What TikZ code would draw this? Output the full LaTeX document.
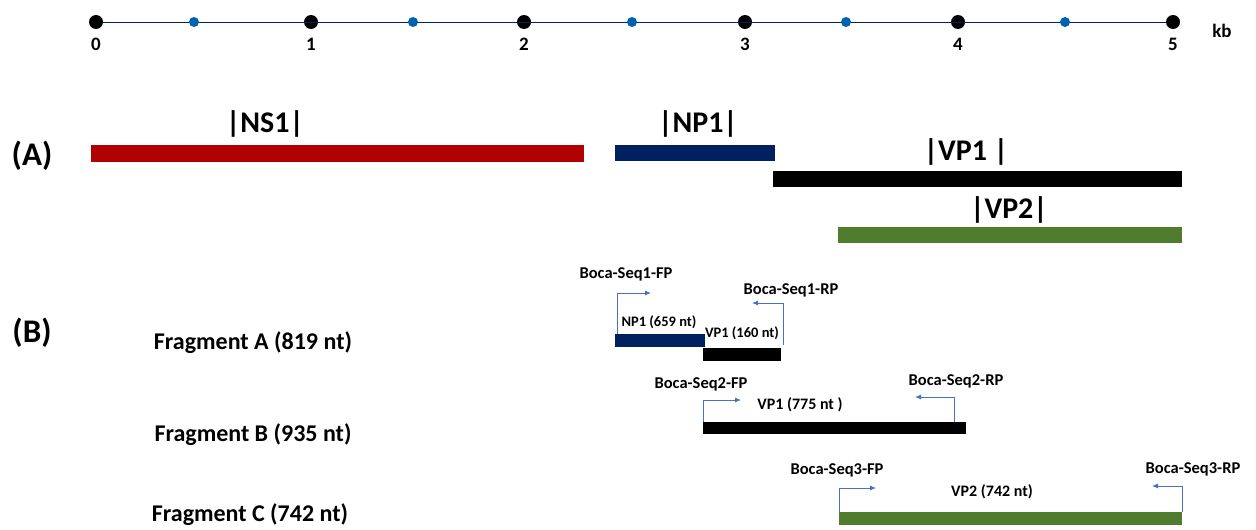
\documentclass[tikz,border=0pt]{standalone}
\usepackage{fontspec}
\setmainfont{Carlito}
\usetikzlibrary{arrows.meta, positioning}
\definecolor{nsred}{HTML}{B00000}
\definecolor{npblue}{HTML}{002060}
\definecolor{vpgreen}{HTML}{507C2E}
\definecolor{dotblue}{HTML}{0062B0}
\definecolor{primerblue}{HTML}{4472C4}
\newcommand{\fs}[1]{\fontsize{#1}{#1}\selectfont}

\begin{document}
\begin{tikzpicture}[x=1pt, y=-1pt, font=\bfseries,
    bigdot/.style={circle, fill=black, inner sep=0pt, minimum size=14pt},
    smalldot/.style={circle, fill=dotblue, inner sep=0pt, minimum size=10pt},
    ticklbl/.style={font=\bfseries\fs{19}},
    genelbl/.style={font=\bfseries\fs{30}},
    partlbl/.style={font=\bfseries\fs{33}},
    fraglbl/.style={font=\bfseries\fs{24}},
    primerlbl/.style={font=\bfseries\fs{16.5}},
    innerlbl/.style={font=\bfseries\fs{16}},
    primer/.style={draw=primerblue, line width=0.8pt, -{Latex[length=6pt,width=5pt]}}]
    \useasboundingbox (0,0) rectangle (1256,530);

    % scale in kb
    \node[bigdot] (k0) at (96, 22) {};
    \node[bigdot] (k1) at (311, 22) {};
    \node[bigdot] (k2) at (524, 22) {};
    \node[bigdot] (k3) at (745, 22) {};
    \node[bigdot] (k4) at (958, 22) {};
    \node[bigdot] (k5) at (1173, 22) {};
    \draw[npblue, line width=1pt] (k0) -- (k5);
    \foreach \x/\n in {194/h0, 413/h1, 632/h2, 846/h3, 1065/h4}
        \node[smalldot] (\n) at (\x, 22) {};
    \foreach \n/\t in {k0/0, k1/1, k2/2, k3/3, k4/4, k5/5}
        \node[ticklbl, below=5pt of \n] {\t};
    \node[ticklbl] (kb) at (1222, 31) {kb};

    % (A) genome map
    \node[partlbl] (A) at (32, 156) {(A)};
    \fill[nsred] (91, 145) rectangle (584, 162);
    \fill[npblue] (615, 145) rectangle (775, 161);
    \fill[black] (773, 171) rectangle (1182, 187);
    \fill[vpgreen] (838, 227) rectangle (1182, 243);
    \node[genelbl] (ns1) at (265, 124) {|NS1|};
    \node[genelbl] (np1) at (698, 124) {|NP1|};
    \node[genelbl] (vp1) at (966, 152) {|VP1 |};
    \node[genelbl] (vp2) at (1009, 210) {|VP2|};

    % (B) fragments
    \node[partlbl] (B) at (32, 333) {(B)};
    \node[fraglbl] (fa) at (253, 343) {Fragment A (819 nt)};
    \node[fraglbl] (fb) at (253, 435) {Fragment B (935 nt)};
    \node[fraglbl] (fc) at (250, 515) {Fragment C (742 nt)};

    % fragment A
    \fill[npblue] (615, 334) rectangle (705, 347);
    \fill[black] (703, 348) rectangle (781, 361);
    \node[innerlbl, font=\bfseries\fs{14.5}] (fanp) at (659, 322) {NP1 (659 nt)};
    \node[innerlbl, font=\bfseries\fs{14.5}] (favp) at (742, 333) {VP1 (160 nt)};
    \coordinate (fp1) at (617, 334);
    \coordinate (fp1e) at (651, 293);
    \coordinate (rp1) at (783, 345);
    \coordinate (rp1e) at (752, 303);
    \draw[primer] (fp1) |- (fp1e);
    \draw[primer] (rp1) |- (rp1e);
    \node[primerlbl] (fp1l) at (626, 274) {Boca-Seq1-FP};
    \node[primerlbl] (rp1l) at (791, 290) {Boca-Seq1-RP};

    % fragment B
    \fill[black] (703, 422) rectangle (966, 434);
    \node[innerlbl] (fbvp) at (800, 405) {VP1 (775 nt )};
    \coordinate (fp2) at (703, 422);
    \coordinate (fp2e) at (741, 400);
    \coordinate (rp2) at (954, 422);
    \coordinate (rp2e) at (915, 397);
    \draw[primer] (fp2) |- (fp2e);
    \draw[primer] (rp2) |- (rp2e);
    \node[primerlbl] (fp2l) at (701, 384) {Boca-Seq2-FP};
    \node[primerlbl] (rp2l) at (956, 381) {Boca-Seq2-RP};

    % fragment C
    \fill[vpgreen] (839, 512) rectangle (1182, 525);
    \node[innerlbl] (fcvp) at (992, 492) {VP2 (742 nt)};
    \coordinate (fp3) at (839, 512);
    \coordinate (fp3e) at (876, 488);
    \coordinate (rp3) at (1182, 512);
    \coordinate (rp3e) at (1152, 486);
    \draw[primer] (fp3) |- (fp3e);
    \draw[primer] (rp3) |- (rp3e);
    \node[primerlbl] (fp3l) at (837, 470) {Boca-Seq3-FP};
    \node[primerlbl] (rp3l) at (1193, 469) {Boca-Seq3-RP};
\end{tikzpicture}
\end{document}
